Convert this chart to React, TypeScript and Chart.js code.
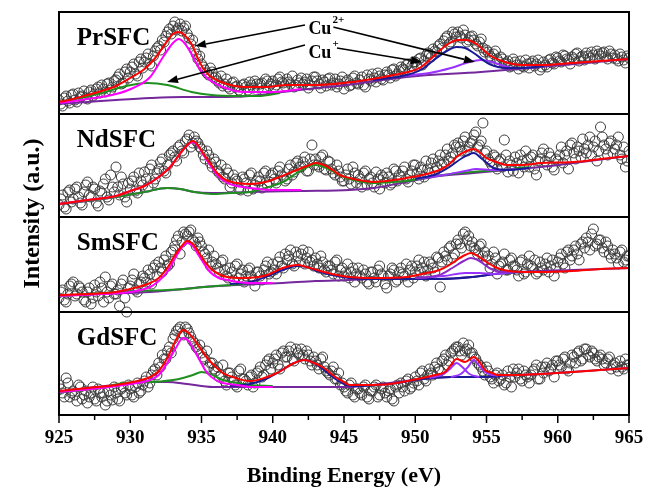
import { useEffect, useRef } from 'react';
import { Chart, registerables } from 'chart.js';

Chart.register(...registerables);

// Energy sampling of the measured spectra (eV): two interleaved scans, 0.25 eV apart each
const E_START = 925;
const E_STEP = 0.25;
const E_START_B = 925.125;
const X_TICKS_MAJOR = 5;

// Measured Cu 2p intensities (arb. units, 0-100 per panel)
const prScatter = [
  14, 8, 18, 11, 20, 12, 17, 23, 15, 24, 20, 27, 29, 22, 31, 27,
  34, 40, 31, 45, 42, 50, 38, 55, 52, 60, 48, 63, 68, 74, 78, 85,
  88, 84, 90, 86, 80, 70, 64, 55, 50, 44, 39, 42, 37, 31, 28, 35,
  25, 32, 28, 22, 30, 24, 29, 33, 26, 31, 35, 28, 33, 29, 37, 31,
  35, 30, 27, 34, 36, 32, 26, 33, 37, 30, 34, 28, 36, 31, 27, 33,
  25, 34, 29, 38, 30, 37, 27, 35, 40, 32, 38, 34, 42, 36, 45, 40,
  47, 44, 50, 48, 52, 55, 49, 58, 60, 65, 62, 70, 73, 78, 72, 80,
  82, 76, 79, 74, 78, 70, 72, 66, 64, 58, 60, 55, 57, 50, 53, 48,
  52, 45, 48, 54, 46, 53, 50, 44, 52, 47, 55, 50, 56, 52, 58, 54,
  57, 60, 53, 58, 61, 56, 59, 63, 58, 62, 55, 60, 59, 53, 57, 51,
  56,
];
const prScatterB = [
  10, 16, 13, 19, 14, 21, 18, 16, 22, 18, 25, 21, 25, 30, 24, 33,
  37, 30, 42, 36, 47, 40, 52, 46, 56, 50, 58, 66, 64, 72, 82, 80,
  92, 86, 83, 88, 76, 74, 60, 58, 47, 41, 46, 36, 33, 38, 30, 27,
  31, 27, 24, 29, 27, 32, 26, 30, 30, 24, 33, 30, 27, 35, 32, 28,
  32, 38, 29, 31, 30, 35, 29, 37, 33, 26, 32, 35, 29, 35, 30, 37,
  32, 28, 36, 31, 34, 29, 39, 33, 36, 41, 35, 39, 39, 44, 38, 43,
  45, 49, 43, 52, 48, 56, 53, 61, 57, 63, 68, 66, 76, 70, 82, 77,
  78, 84, 72, 77, 74, 68, 75, 62, 62, 56, 63, 52, 55, 51, 47, 55,
  49, 53, 47, 50, 51, 48, 54, 47, 49, 54, 51, 57, 53, 59, 55, 50,
  55, 61, 57, 54, 58, 62, 55, 60, 61, 57, 63, 56, 55, 60, 54, 58,
];
const ndScatter = [
  12, 22, 8, 27, 18, 30, 14, 25, 35, 20, 28, 11, 24, 38, 17, 30,
  50, 22, 33, 15, 28, 40, 24, 36, 45, 30, 52, 38, 48, 58, 44, 62,
  66, 56, 72, 64, 78, 70, 80, 74, 68, 58, 62, 50, 55, 44, 40, 48,
  30, 42, 36, 27, 38, 26, 44, 32, 40, 29, 46, 35, 44, 34, 50, 40,
  38, 52, 45, 56, 50, 60, 46, 72, 58, 50, 62, 47, 55, 44, 52, 40,
  36, 48, 33, 44, 42, 30, 46, 38, 34, 45, 28, 40, 44, 32, 48, 36,
  40, 50, 35, 46, 52, 38, 47, 56, 44, 58, 50, 62, 55, 68, 60, 72,
  74, 66, 80, 70, 76, 85, 72, 94, 66, 55, 62, 48, 58, 77, 45, 52,
  60, 44, 56, 66, 50, 62, 42, 58, 68, 52, 60, 47, 56, 70, 62, 48,
  74, 58, 66, 78, 64, 80, 70, 56, 90, 72, 62, 76, 68, 80, 58, 50,
  66,
];
const ndScatterB = [
  18, 10, 25, 15, 28, 20, 12, 32, 22, 30, 14, 26, 33, 20, 42, 25,
  30, 40, 20, 34, 36, 26, 44, 32, 38, 48, 34, 44, 55, 46, 52, 64,
  60, 70, 66, 76, 82, 74, 76, 70, 62, 66, 54, 58, 46, 52, 38, 44,
  34, 38, 28, 40, 34, 42, 28, 36, 36, 44, 32, 42, 38, 46, 42, 36,
  48, 42, 54, 50, 55, 46, 58, 52, 52, 60, 48, 56, 48, 42, 46, 36,
  42, 38, 50, 34, 38, 44, 32, 40, 30, 38, 42, 34, 40, 34, 46, 42,
  46, 38, 42, 52, 44, 50, 40, 48, 54, 46, 56, 52, 62, 56, 64, 70,
  70, 76, 66, 74, 82, 70, 76, 64, 58, 52, 60, 56, 50, 62, 56, 46,
  54, 62, 50, 58, 60, 48, 56, 64, 56, 64, 50, 58, 62, 54, 66, 72,
  64, 70, 60, 68, 72, 62, 76, 66, 80, 68, 74, 64, 72, 62, 70, 56,
];
const smScatter = [
  14, 22, 10, 26, 30, 18, 24, 12, 20, 8, 27, 16, 24, 35, 14, 28,
  18, 6, 32, 0, 26, 38, 20, 30, 34, 42, 28, 47, 50, 40, 56, 48,
  62, 72, 58, 80, 76, 82, 70, 74, 66, 58, 62, 50, 48, 40, 52, 36,
  44, 32, 48, 38, 30, 42, 36, 26, 40, 32, 46, 38, 48, 38, 55, 44,
  52, 62, 46, 56, 58, 48, 60, 52, 54, 44, 50, 40, 46, 38, 52, 42,
  36, 48, 40, 30, 44, 34, 38, 28, 40, 30, 46, 36, 24, 38, 42, 32,
  44, 36, 30, 46, 40, 52, 44, 36, 50, 44, 55, 25, 60, 52, 66, 58,
  72, 64, 80, 76, 70, 62, 66, 56, 52, 44, 60, 38, 48, 58, 42, 54,
  46, 36, 52, 40, 56, 44, 38, 50, 42, 54, 46, 36, 50, 58, 44, 62,
  56, 66, 52, 70, 74, 62, 83, 68, 72, 60, 66, 54, 58, 48, 62, 52,
  56,
];
const smScatterB = [
  20, 12, 18, 28, 16, 26, 20, 10, 24, 14, 20, 30, 10, 20, 26, 18,
  22, 28, 14, 24, 32, 22, 28, 36, 30, 38, 44, 36, 44, 52, 46, 60,
  66, 76, 70, 78, 80, 72, 66, 70, 60, 54, 46, 56, 44, 50, 42, 34,
  40, 46, 34, 42, 36, 44, 32, 40, 36, 42, 50, 40, 42, 50, 46, 58,
  56, 48, 60, 50, 62, 54, 50, 46, 48, 56, 42, 46, 42, 50, 36, 44,
  40, 34, 44, 38, 36, 42, 30, 40, 34, 42, 38, 28, 36, 44, 30, 40,
  38, 48, 42, 34, 46, 40, 50, 42, 48, 40, 54, 50, 56, 64, 54, 68,
  68, 78, 72, 66, 64, 58, 68, 60, 56, 48, 54, 46, 50, 42, 52, 46,
  42, 50, 38, 48, 46, 52, 40, 44, 48, 40, 52, 44, 54, 48, 60, 52,
  62, 58, 68, 64, 70, 78, 66, 72, 64, 70, 58, 62, 54, 60, 50, 56,
];
const gdScatter = [
  30, 22, 37, 18, 24, 14, 28, 20, 12, 22, 16, 26, 18, 10, 24, 15,
  22, 14, 28, 20, 26, 18, 32, 24, 34, 28, 40, 46, 52, 60, 56, 68,
  76, 84, 88, 80, 86, 78, 72, 66, 62, 56, 48, 52, 44, 38, 50, 30,
  42, 34, 28, 46, 36, 30, 40, 32, 44, 38, 50, 56, 52, 60, 46, 64,
  58, 68, 54, 62, 66, 56, 60, 50, 54, 46, 58, 44, 40, 48, 36, 30,
  28, 22, 32, 18, 26, 20, 30, 16, 24, 30, 20, 28, 18, 26, 14, 30,
  32, 24, 36, 28, 38, 30, 44, 34, 46, 40, 52, 44, 56, 50, 62, 66,
  68, 60, 64, 70, 62, 56, 50, 44, 48, 38, 32, 42, 36, 30, 44, 28,
  38, 46, 34, 40, 32, 44, 50, 36, 42, 52, 46, 38, 54, 48, 58, 44,
  60, 52, 64, 56, 66, 58, 62, 54, 60, 50, 56, 46, 52, 44, 48, 56,
  50,
];
const gdScatterB = [
  26, 18, 32, 22, 20, 30, 16, 24, 18, 28, 14, 22, 22, 14, 20, 28,
  16, 26, 22, 30, 20, 28, 22, 30, 38, 32, 44, 40, 48, 56, 64, 62,
  80, 86, 82, 88, 82, 74, 68, 70, 58, 64, 52, 46, 48, 40, 34, 42,
  38, 30, 44, 36, 34, 38, 28, 42, 48, 40, 54, 46, 56, 50, 62, 58,
  64, 56, 66, 60, 60, 64, 54, 58, 50, 56, 48, 42, 44, 36, 42, 32,
  24, 30, 20, 26, 22, 28, 18, 24, 28, 18, 26, 22, 24, 16, 28, 22,
  28, 34, 26, 32, 34, 42, 36, 40, 42, 48, 46, 54, 60, 54, 64, 68,
  64, 72, 66, 62, 58, 52, 48, 40, 44, 36, 40, 34, 40, 32, 38, 46,
  42, 36, 44, 38, 40, 46, 36, 48, 48, 44, 50, 54, 50, 56, 46, 52,
  58, 62, 54, 66, 60, 64, 56, 58, 56, 52, 58, 50, 48, 54, 46, 50,
];

// Fitted components, [binding energy, intensity]
const prEnvelope = [
  [925, 12], [926, 15], [927, 19], [928, 23], [929, 28], [930, 36], [931, 45], [931.7, 55],
  [932.3, 67], [933, 80], [933.4, 82], [933.8, 79], [934.3, 70], [934.7, 57], [935.1, 46],
  [935.6, 38], [936.2, 33], [937, 29], [938, 27], [939.5, 27], [941, 29], [943, 29], [945, 31],
  [947, 35], [948.5, 39], [949.5, 42], [950.3, 46], [951, 54], [951.6, 62], [952.3, 70],
  [953, 74], [953.6, 74], [954.3, 70], [955.2, 59], [956.3, 52], [957.5, 49], [959, 49],
  [961, 51], [963, 53], [965, 55],
];
const prCu2Main = [
  [925, 11], [927, 15], [929, 20], [930.2, 26], [931.4, 37], [932.3, 57], [933, 71], [933.4, 75],
  [933.8, 71], [934.3, 60], [934.7, 49], [935.4, 36], [936.5, 27], [938, 22], [940, 22], [942, 25],
];
const prCu1Main = [
  [925, 12], [926.5, 16], [928, 21], [929.7, 28], [931.2, 31], [932.6, 29], [934.3, 22],
  [935.7, 19], [937.6, 18], [939, 18], [940.5, 21],
];
const prBackground = [
  [925, 10], [927, 12], [929, 14], [931.4, 16], [933.7, 17], [936.1, 17], [938.4, 18],
  [940.7, 22], [943.1, 26], [945.2, 29], [949.4, 37], [954.6, 42], [958.8, 47], [965, 55],
];
const prCu2Sat = [
  [947, 34], [949.4, 39], [950.5, 45], [951.3, 54], [952.2, 63], [952.9, 67], [953.5, 66],
  [954.1, 61], [955.2, 50], [956.4, 46], [957.6, 46], [959, 48],
];
const prCu1Sat = [
  [949, 38], [951, 41], [952.5, 46], [953.8, 52], [954.6, 54], [955.4, 52], [956.2, 48],
  [957, 46], [958.5, 47],
];

const ndEnvelope = [
  [925, 13], [927, 17], [929, 21], [930, 26], [931, 31], [932, 40], [932.8, 50], [933.7, 67],
  [934.4, 76], [934.8, 71], [935.1, 64], [935.6, 54], [936.1, 44], [936.7, 37], [937.5, 34],
  [938.4, 33], [939.5, 35], [940.3, 39], [941.5, 46], [942.6, 52], [943, 54], [943.6, 52],
  [944.2, 47], [944.7, 42], [945.4, 39], [946, 37], [947.1, 35], [948.5, 37], [949.4, 39],
  [950.5, 42], [951.7, 47], [952.4, 53], [952.9, 60], [953.6, 66], [954.1, 68], [954.5, 65],
  [955, 59], [955.7, 55], [956.4, 52], [957.5, 52], [958.8, 54], [961.1, 55], [963, 58], [965, 61],
];
const ndCu2Main = [
  [925, 13], [927, 17], [929, 21], [930, 26], [931, 31], [932, 40], [932.8, 50], [933.7, 67],
  [934.4, 75], [934.8, 70], [935.1, 63], [935.6, 52], [936.1, 42], [936.7, 35], [937.2, 32],
  [938.4, 29], [940, 27], [942, 27],
];
const ndSatellite = [
  [925, 13], [929, 20], [931, 25], [932.6, 29], [933.5, 28], [934.5, 25], [935.7, 23], [937, 24],
  [938.4, 25], [939.5, 29], [940.7, 35], [941.8, 45], [942.6, 51], [943, 52], [943.6, 50],
  [944.2, 46], [944.7, 42], [945.4, 38], [946, 36], [947.1, 34], [948.5, 35], [949.4, 36],
  [951, 40], [952.5, 43], [954, 45], [956, 47], [958, 50],
];
const ndBackground = [
  [925, 13], [927, 16], [929, 20], [931, 25], [932.6, 29], [933.5, 28], [934.5, 25], [935.7, 24],
  [938.4, 25], [942, 26], [945.4, 27], [947.1, 29], [949.4, 35], [951.7, 41], [954.1, 44],
  [956.4, 47], [958.8, 50], [961.1, 54], [965, 61],
];
const ndCu2Sat = [
  [950, 38], [951.5, 43], [952.4, 50], [953.3, 59], [954.1, 64], [954.7, 58], [955.5, 49],
  [956.5, 47], [958, 49],
];
const ndCu1Sat = [
  [950, 38], [952, 42], [953.5, 46], [954.3, 48], [955.5, 47], [957, 48],
];

const smEnvelope = [
  [925, 17], [927, 18], [929, 20], [930, 23], [931.4, 29], [932, 34], [932.6, 44], [933.1, 56],
  [933.5, 64], [934, 71], [934.4, 68], [934.7, 62], [935.1, 53], [935.6, 44], [936.2, 38],
  [936.8, 35], [937.9, 34], [939, 35], [939.6, 37], [940.7, 44], [941.7, 47], [942.4, 45],
  [943.1, 42], [944.5, 37], [945.4, 35], [947.1, 34], [949.4, 35], [950.5, 38], [951.7, 42],
  [952.4, 47], [952.9, 52], [953.5, 57], [953.9, 59], [954.4, 56], [955, 50], [955.6, 45],
  [956.2, 42], [957.5, 40], [958.8, 40], [961, 41], [963, 43], [965, 44],
];
const smCu2Main = [
  [925, 16], [928, 18], [930, 20], [931.4, 25], [932, 31], [932.6, 40], [933.2, 55], [933.6, 64],
  [934, 69], [934.4, 66], [934.7, 59], [935.1, 50], [935.6, 40], [936.2, 34], [936.8, 32],
  [937.6, 30], [938.4, 29], [940, 29],
];
const smCu1Main = [
  [925, 16], [928, 19], [930.2, 21], [932.6, 22], [934.5, 24], [936, 26], [938, 28],
];
const smBackground = [
  [925, 16], [928, 18], [931.4, 20], [933, 22], [935.1, 25], [937.5, 27], [940.7, 29], [943, 31],
  [945.4, 32], [947.1, 33], [949.4, 33], [951.7, 33], [954, 35], [956.2, 39], [958.8, 41],
  [961, 42], [965, 44],
];
const smSatellite = [
  [937, 28], [938.4, 30], [939.5, 35], [940.7, 42], [941.7, 46], [942.4, 45], [943.1, 41],
  [944.5, 36], [945.4, 34], [947.1, 33], [949.4, 33], [951.7, 33], [954, 35], [956.2, 39], [958, 40],
];
const smCu2Sat = [
  [950, 34], [951.7, 37], [952.6, 44], [953.4, 51], [953.9, 54], [954.5, 51], [955.2, 44],
  [956, 40], [957, 40],
];
const smCu1Sat = [
  [950, 34], [952, 36], [953.5, 39], [954.5, 39], [955.5, 38], [957, 40],
];

const gdEnvelope = [
  [925, 24], [927, 27], [929, 30], [930.5, 34], [931.4, 38], [932, 44], [932.6, 57], [933.1, 72],
  [933.7, 85], [934.1, 82], [934.4, 77], [934.9, 67], [935.4, 57], [936, 48], [936.5, 42],
  [937.4, 37], [938.4, 34], [939.4, 37], [940.3, 42], [941.5, 52], [942.2, 55], [942.9, 52],
  [943.6, 47], [944.3, 39], [945, 33], [945.4, 30], [946.5, 30], [948.2, 31], [950.5, 37],
  [951.4, 40], [952.1, 43], [952.5, 50], [952.9, 56], [953.5, 53], [954.1, 58], [954.5, 53],
  [954.9, 45], [955.4, 42], [955.8, 40], [957, 40], [958.8, 41], [961, 43], [963, 45], [965, 47],
];
const gdCu2Main = [
  [925, 23], [928, 27], [930, 31], [931.4, 35], [932, 40], [932.6, 52], [933.2, 67], [933.7, 77],
  [934.1, 74], [934.4, 67], [934.9, 54], [935.4, 42], [936, 35], [936.5, 32], [937.5, 30],
  [938.4, 28], [940, 28],
];
const gdCu1Main = [
  [925, 23], [928, 27], [929.1, 31], [930.5, 33], [931.4, 33], [933, 35], [933.7, 37], [934.4, 40],
  [935, 43], [935.6, 41], [936.5, 35], [937.5, 32], [938.4, 30], [940, 29],
];
const gdBackground = [
  [925, 23], [927, 27], [929, 30], [931.4, 33], [932.6, 33], [934, 31], [935.8, 28], [938, 28],
  [940.3, 28], [942, 28], [945, 28], [947, 30], [950.5, 36], [952.5, 38], [954.5, 38], [956, 39],
  [958.8, 41], [961, 43], [965, 47],
];
const gdSatellite = [
  [937, 29], [938.4, 31], [939.5, 36], [940.3, 42], [941.5, 52], [942.2, 55], [942.9, 52],
  [943.6, 45], [944.3, 37], [945, 31], [946, 29], [947, 30], [948.2, 31], [950.5, 36],
  [952.5, 38], [954.5, 38], [956, 39],
];
const gdCu2Sat = [
  [951, 37], [952, 41], [952.5, 47], [952.9, 52], [953.3, 48], [953.8, 41], [954.5, 38],
];
const gdCu1Sat = [
  [952.5, 38], [953.2, 41], [953.7, 48], [954.1, 55], [954.5, 49], [955, 42], [955.8, 39],
];

const SAMPLE_NAMES = ['PrSFC', 'NdSFC', 'SmSFC', 'GdSFC'];

// Colours of the fit components
const RED = '#ff0000';
const MAGENTA = '#ff00ff';
const GREEN = '#1f8f1f';
const NAVY = '#1a1a96';
const VIOLET = '#9a32ff';
const PLUM = '#8a2bc8';
const BG_PURPLE = '#74289c';

// Vertical stacking: each panel sits on its own baseline in a 0..403 stack
const Y_MAX = 403;
const PANEL_BASE = [301, 198, 103, 0];

const SERIF = '"Liberation Serif", "Times New Roman", serif';

type Pt = number[];
type Fit = { pts: Pt[]; color: string; order: number };

const panels: { name: string; base: number; scans: number[][]; fits: Fit[] }[] = [
  {
    name: SAMPLE_NAMES[0], base: PANEL_BASE[0], scans: [prScatter, prScatterB],
    fits: [
      { pts: prBackground, color: BG_PURPLE, order: 6 },
      { pts: prCu1Main, color: GREEN, order: 5 },
      { pts: prCu1Sat, color: VIOLET, order: 4 },
      { pts: prCu2Sat, color: NAVY, order: 3 },
      { pts: prCu2Main, color: MAGENTA, order: 2 },
      { pts: prEnvelope, color: RED, order: 1 },
    ],
  },
  {
    name: SAMPLE_NAMES[1], base: PANEL_BASE[1], scans: [ndScatter, ndScatterB],
    fits: [
      { pts: ndBackground, color: BG_PURPLE, order: 6 },
      { pts: ndSatellite, color: GREEN, order: 5 },
      { pts: ndCu1Sat, color: VIOLET, order: 4 },
      { pts: ndCu2Sat, color: NAVY, order: 3 },
      { pts: ndCu2Main, color: MAGENTA, order: 2 },
      { pts: ndEnvelope, color: RED, order: 1 },
    ],
  },
  {
    name: SAMPLE_NAMES[2], base: PANEL_BASE[2], scans: [smScatter, smScatterB],
    fits: [
      { pts: smBackground, color: BG_PURPLE, order: 7 },
      { pts: smCu1Main, color: GREEN, order: 6 },
      { pts: smSatellite, color: NAVY, order: 5 },
      { pts: smCu1Sat, color: VIOLET, order: 4 },
      { pts: smCu2Sat, color: PLUM, order: 3 },
      { pts: smCu2Main, color: MAGENTA, order: 2 },
      { pts: smEnvelope, color: RED, order: 1 },
    ],
  },
  {
    name: SAMPLE_NAMES[3], base: PANEL_BASE[3], scans: [gdScatter, gdScatterB],
    fits: [
      { pts: gdBackground, color: BG_PURPLE, order: 7 },
      { pts: gdCu1Main, color: GREEN, order: 6 },
      { pts: gdSatellite, color: NAVY, order: 5 },
      { pts: gdCu1Sat, color: VIOLET, order: 4 },
      { pts: gdCu2Sat, color: VIOLET, order: 3 },
      { pts: gdCu2Main, color: MAGENTA, order: 2 },
      { pts: gdEnvelope, color: RED, order: 1 },
    ],
  },
];

// Cu2+ / Cu+ callouts in the top panel: [fromE, fromY, toE, toY]
const CU2_ARROWS = [
  [942.26, 390, 934.54, 369],
  [944.23, 388, 954.19, 353],
];
const CU1_ARROWS = [
  [942.26, 370, 932.58, 333],
  [944.51, 367, 950.47, 353],
];
const CU2_LABEL = [942.5, 387];
const CU1_LABEL = [942.5, 363];

function drawArrow(ctx: CanvasRenderingContext2D, x0: number, y0: number, x1: number, y1: number) {
  const ang = Math.atan2(y1 - y0, x1 - x0);
  const head = 11;
  const half = 4;
  const bx = x1 - head * Math.cos(ang);
  const by = y1 - head * Math.sin(ang);
  ctx.beginPath();
  ctx.moveTo(x0, y0);
  ctx.lineTo(bx, by);
  ctx.stroke();
  ctx.beginPath();
  ctx.moveTo(x1, y1);
  ctx.lineTo(bx + half * Math.sin(ang), by - half * Math.cos(ang));
  ctx.lineTo(bx - half * Math.sin(ang), by + half * Math.cos(ang));
  ctx.closePath();
  ctx.fill();
}

const stackDecor = {
  id: 'stackDecor',
  afterDraw(chart: any) {
    const { ctx, chartArea: a, scales } = chart;
    const xs = scales.x;
    const ys = scales.y;
    ctx.save();
    ctx.strokeStyle = '#000';
    ctx.fillStyle = '#000';

    // frame and panel separators
    ctx.lineWidth = 2;
    ctx.strokeRect(a.left, a.top, a.right - a.left, a.bottom - a.top);
    PANEL_BASE.forEach((b) => {
      if (b === 0) return;
      const py = Math.round(ys.getPixelForValue(b));
      ctx.beginPath();
      ctx.moveTo(a.left, py);
      ctx.lineTo(a.right, py);
      ctx.stroke();
    });

    // major and minor ticks below the energy axis
    ctx.lineWidth = 1.5;
    for (let e = xs.min; e <= xs.max + 1e-6; e += X_TICKS_MAJOR / 2) {
      const px = xs.getPixelForValue(e);
      const major = Math.abs((e - xs.min) % X_TICKS_MAJOR) < 1e-6;
      ctx.beginPath();
      ctx.moveTo(px, a.bottom);
      ctx.lineTo(px, a.bottom + (major ? 8 : 5));
      ctx.stroke();
    }

    // sample names
    ctx.font = `bold 25px ${SERIF}`;
    ctx.textAlign = 'left';
    ctx.textBaseline = 'middle';
    panels.forEach((p, i) => {
      const top = i === 0 ? Y_MAX : PANEL_BASE[i - 1];
      ctx.fillText(p.name, xs.getPixelForValue(926.25), ys.getPixelForValue(top - 27));
    });

    // Cu2+ / Cu+ labels with arrows
    ctx.lineWidth = 1.6;
    [...CU2_ARROWS, ...CU1_ARROWS].forEach(([e0, y0, e1, y1]) => {
      drawArrow(ctx, xs.getPixelForValue(e0), ys.getPixelForValue(y0), xs.getPixelForValue(e1), ys.getPixelForValue(y1));
    });
    const drawIon = (pos: number[], sup: string) => {
      const px = xs.getPixelForValue(pos[0]);
      const py = ys.getPixelForValue(pos[1]);
      ctx.fillStyle = '#fff';
      ctx.font = `bold 18px ${SERIF}`;
      const w = ctx.measureText('Cu').width;
      ctx.fillRect(px - 2, py - 8, w + 4, 16);
      ctx.fillStyle = '#000';
      ctx.textBaseline = 'middle';
      ctx.fillText('Cu', px, py + 1);
      ctx.font = `bold 11px ${SERIF}`;
      ctx.fillText(sup, px + w + 1, py - 8);
    };
    drawIon(CU2_LABEL, '2+');
    drawIon(CU1_LABEL, '+');
    ctx.restore();
  },
};

export default function App() {
  const canvasRef = useRef<HTMLCanvasElement | null>(null);

  useEffect(() => {
    const canvas = canvasRef.current;
    if (!canvas) return;

    const datasets: any[] = [];
    panels.forEach((p) => {
      const starts = [E_START, E_START_B];
      datasets.push({
        label: `${p.name} data`,
        data: p.scans.flatMap((scan, s) =>
          scan.map((v, i) => ({ x: starts[s] + i * E_STEP, y: p.base + v }))
        ),
        showLine: false,
        pointRadius: 5,
        pointBorderWidth: 1,
        pointBorderColor: '#3a3a3a',
        pointBackgroundColor: 'rgba(255,255,255,0)',
        order: 20,
      });
      p.fits.forEach((f) => {
        datasets.push({
          label: `${p.name} fit`,
          data: f.pts.map(([e, v]) => ({ x: e, y: p.base + v })),
          showLine: true,
          borderColor: f.color,
          borderWidth: 2,
          pointRadius: 0,
          fill: false,
          cubicInterpolationMode: 'monotone',
          order: f.order,
        });
      });
    });

    const chart = new Chart(canvas, {
      type: 'scatter',
      data: { datasets },
      plugins: [stackDecor],
      options: {
        responsive: false,
        animation: false,
        devicePixelRatio: 1,
        layout: { padding: { top: 12, right: 27, left: 0, bottom: 0 } },
        plugins: { legend: { display: false }, tooltip: { enabled: false } },
        scales: {
          x: {
            type: 'linear',
            min: 925,
            max: 965,
            grid: { display: false, drawTicks: false },
            border: { display: false },
            ticks: {
              stepSize: X_TICKS_MAJOR,
              padding: 12,
              color: '#000',
              font: { family: SERIF, size: 19, weight: 'bold' },
            },
            title: {
              display: true,
              text: 'Binding Energy (eV)',
              color: '#000',
              padding: { top: 0, bottom: 0 },
              font: { family: SERIF, size: 22, weight: 'bold' },
            },
            afterFit: (s: any) => { s.height = 75; },
          },
          y: {
            min: 0,
            max: Y_MAX,
            grid: { display: false, drawTicks: false },
            border: { display: false },
            ticks: { display: false },
            title: {
              display: true,
              text: 'Intensity (a.u.)',
              color: '#000',
              padding: { top: 18, bottom: 0 },
              font: { family: SERIF, size: 24, weight: 'bold' },
            },
            afterFit: (s: any) => { s.width = 59; },
          },
        },
      } as any,
    });

    return () => chart.destroy();
  }, []);

  return (
    <div style={{ position: 'absolute', left: 0, top: 0, width: 656, height: 490, background: '#fff' }}>
      <canvas ref={canvasRef} width={656} height={490} />
    </div>
  );
}
